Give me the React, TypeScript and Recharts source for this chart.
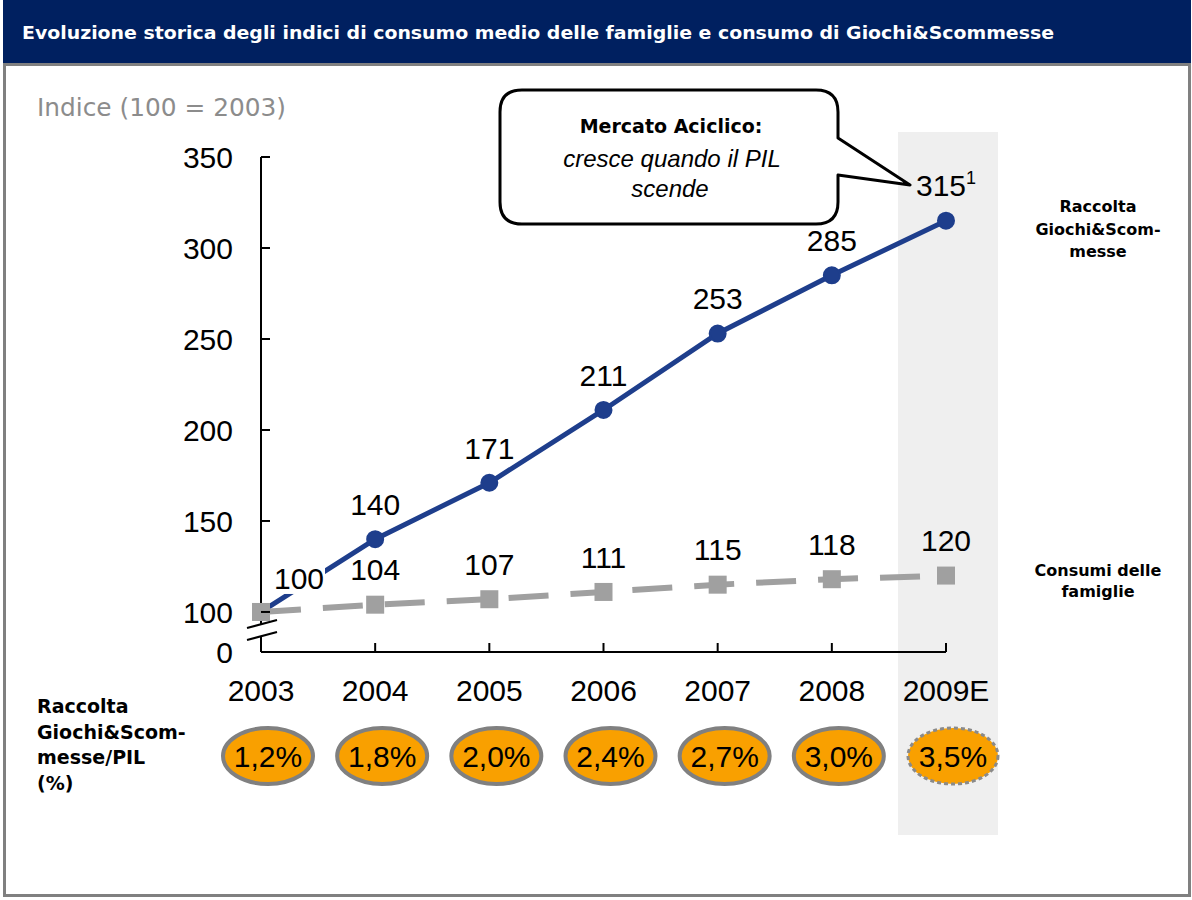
import React from "react";
import { LineChart, Line, XAxis, YAxis } from "recharts";

const YEARS = ["2003", "2004", "2005", "2006", "2007", "2008", "2009E"];
const RACCOLTA = [100, 140, 171, 211, 253, 285, 315];
const CONSUMI = [100, 104, 107, 111, 115, 118, 120];
const QUOTA_PIL = ["1,2%", "1,8%", "2,0%", "2,4%", "2,7%", "3,0%", "3,5%"];
const AXIS_FLOOR = 78; // shown as "0" below the axis break
const Y_TICKS = [AXIS_FLOOR, 100, 150, 200, 250, 300, 350];

const data = YEARS.map((year, i) => ({
  year,
  raccolta: RACCOLTA[i],
  consumi: CONSUMI[i],
  quota: QUOTA_PIL[i],
}));

const ARIAL = "'Liberation Sans', Arial, sans-serif";
const TAHOMA = "'DejaVu Sans', Tahoma, Verdana, sans-serif";
const BLUE = "#1E3E8C";
const GREY = "#A0A0A0";

const YTick = ({ x, y, payload }: any) => (
  <g>
    <line x1={x} x2={x + 9} y1={y} y2={y} stroke="#000" strokeWidth={2} />
    <text x={x - 28} y={y} dy="0.36em" textAnchor="end" fontFamily={ARIAL} fontSize={30} fill="#000">
      {payload.value === AXIS_FLOOR ? "0" : payload.value}
    </text>
  </g>
);

const XTick = ({ x, y, payload, index }: any) => {
  const last = index === YEARS.length - 1;
  const cx = x + 7;
  const cy = y + 104;
  return (
    <g>
      <line x1={x} x2={x} y1={y - 9} y2={y} stroke="#000" strokeWidth={2} />
      <text x={x} y={y + 38} dy="0.36em" textAnchor="middle" fontFamily={ARIAL} fontSize={30} fill="#000">
        {payload.value}
      </text>
      <ellipse
        cx={cx}
        cy={cy}
        rx={45}
        ry={28}
        fill="#F9A000"
        stroke={last ? "#8a8a8a" : "#808080"}
        strokeWidth={last ? 3 : 4}
        strokeDasharray={last ? "4 3" : undefined}
      />
      <text x={cx} y={cy} dy="0.36em" textAnchor="middle" fontFamily={ARIAL} fontSize={30} fill="#000">
        {QUOTA_PIL[index]}
      </text>
    </g>
  );
};

const BlueLabel = ({ x, y, value, index }: any) => {
  if (index === 0) return null;
  if (index === RACCOLTA.length - 1) {
    return (
      <text x={x} y={y - 35} dy="0.36em" textAnchor="middle" fontFamily={ARIAL} fontSize={30} fill="#000">
        {value}
        <tspan fontSize={18} dy="-0.7em">1</tspan>
      </text>
    );
  }
  return (
    <text x={x} y={y - 35} dy="0.36em" textAnchor="middle" fontFamily={ARIAL} fontSize={30} fill="#000">
      {value}
    </text>
  );
};

const GreyLabel = ({ x, y, value, index }: any) => {
  if (index === 0) {
    return (
      <g>
        <rect x={x + 12} y={y - 50} width={52} height={32} fill="#fff" />
        <text x={x + 38} y={y - 34} dy="0.36em" textAnchor="middle" fontFamily={ARIAL} fontSize={30} fill="#000">
          {value}
        </text>
      </g>
    );
  }
  return (
    <text x={x} y={y - 35} dy="0.36em" textAnchor="middle" fontFamily={ARIAL} fontSize={30} fill="#000">
      {value}
    </text>
  );
};

const SquareDot = (p: any) => (
  <rect key={`sq-${p.index}`} x={p.cx - 9} y={p.cy - 9} width={18} height={18} fill={GREY} />
);

const boldText = (size: number): React.CSSProperties => ({
  position: "absolute",
  fontFamily: TAHOMA,
  fontWeight: "bold",
  fontSize: size,
  color: "#000",
});

export default function App() {
  return (
    <div style={{ position: "absolute", left: 0, top: 0, width: 1192, height: 900, background: "#fff", overflow: "hidden" }}>
      {/* title bar */}
      <div style={{ position: "absolute", left: 3, top: 0, width: 1188, height: 63, background: "#002060" }} />
      <div
        style={{
          position: "absolute",
          left: 3,
          top: 63,
          width: 1188,
          height: 834,
          border: "3px solid #808080",
          boxSizing: "border-box",
        }}
      />

      {/* forecast band */}
      <div style={{ position: "absolute", left: 898, top: 132, width: 100, height: 703, background: "#EFEFEF" }} />

      <div style={{ position: "absolute", left: 0, top: 0 }}>
        <LineChart width={1192} height={900} data={data} margin={{ top: 157, right: 246, bottom: 218, left: 201 }}>
          <XAxis
            dataKey="year"
            height={30}
            tickSize={0}
            tickMargin={0}
            interval={0}
            axisLine={{ stroke: "#000", strokeWidth: 2 }}
            tick={<XTick />}
          />
          <YAxis
            width={60}
            type="number"
            domain={[AXIS_FLOOR, 350]}
            ticks={Y_TICKS}
            allowDataOverflow
            tickSize={0}
            tickMargin={0}
            axisLine={{ stroke: "#000", strokeWidth: 2 }}
            tick={<YTick />}
          />
          <Line
            dataKey="raccolta"
            stroke={BLUE}
            strokeWidth={5}
            dot={{ r: 8, fill: BLUE, stroke: BLUE, strokeWidth: 2 }}
            label={<BlueLabel />}
            isAnimationActive={false}
          />
          <Line
            dataKey="consumi"
            stroke={GREY}
            strokeWidth={6}
            strokeDasharray="40 22"
            dot={SquareDot}
            label={<GreyLabel />}
            isAnimationActive={false}
          />
        </LineChart>
      </div>

      {/* title, axis break, callout */}
      <svg width={1192} height={900} style={{ position: "absolute", left: 0, top: 0, pointerEvents: "none" }}>
        <text
          x={22}
          y={33}
          dy="0.36em"
          fill="#fff"
          fontFamily={TAHOMA}
          fontWeight="bold"
          fontSize={18}
          textLength={1032}
          lengthAdjust="spacingAndGlyphs"
        >
          Evoluzione storica degli indici di consumo medio delle famiglie e consumo di Giochi&amp;Scommesse
        </text>
        <text
          x={37}
          y={107}
          dy="0.36em"
          fill="#8C8C8C"
          fontFamily={TAHOMA}
          fontSize={24}
          textLength={249}
          lengthAdjust="spacingAndGlyphs"
        >
          Indice (100 = 2003)
        </text>

        <polygon points="247,628 277,620 277,632 247,640" fill="#fff" />
        <line x1={247} y1={628} x2={277} y2={620} stroke="#000" strokeWidth={2} />
        <line x1={247} y1={640} x2={277} y2={632} stroke="#000" strokeWidth={2} />

        <path
          d="M 522 90 L 816 90 Q 838 90 838 112 L 838 138 L 910 185 L 838 175 L 838 202 Q 838 224 816 224 L 522 224 Q 500 224 500 202 L 500 112 Q 500 90 522 90 Z"
          fill="#fff"
          stroke="#000"
          strokeWidth={3}
          strokeLinejoin="round"
        />
        <text x={671} y={126} dy="0.36em" textAnchor="middle" fontFamily={TAHOMA} fontWeight="bold" fontSize={19}>
          Mercato Aciclico:
        </text>
        <text x={672} y={158} dy="0.36em" textAnchor="middle" fontFamily={ARIAL} fontStyle="italic" fontSize={24}>
          cresce quando il PIL
        </text>
        <text x={670} y={188} dy="0.36em" textAnchor="middle" fontFamily={ARIAL} fontStyle="italic" fontSize={24}>
          scende
        </text>
      </svg>

      <div style={{ ...boldText(16), left: 1020, top: 196, width: 156, textAlign: "center", lineHeight: "22.5px" }}>
        Raccolta
        <br />
        Giochi&amp;Scom-
        <br />
        messe
      </div>
      <div style={{ ...boldText(16), left: 1020, top: 560, width: 156, textAlign: "center", lineHeight: "21px" }}>
        Consumi delle
        <br />
        famiglie
      </div>
      <div style={{ ...boldText(19), left: 37, top: 694, lineHeight: "25.5px", whiteSpace: "nowrap" }}>
        Raccolta
        <br />
        Giochi&amp;Scom-
        <br />
        messe/PIL
        <br />
        (%)
      </div>
    </div>
  );
}
